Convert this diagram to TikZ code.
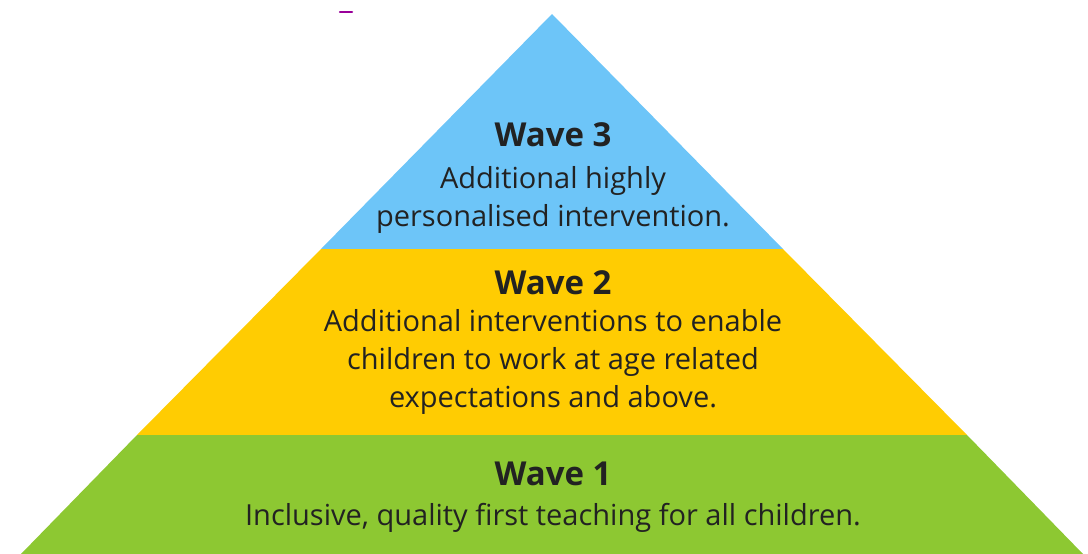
\documentclass[tikz,border=0pt]{standalone}
\usepackage{fontspec}
\setmainfont{Open Sans}
\usetikzlibrary{positioning}

\definecolor{waveblue}{HTML}{6DC5F8}
\definecolor{waveyellow}{HTML}{FFCC02}
\definecolor{wavegreen}{HTML}{8DC832}
\definecolor{wavetext}{HTML}{222222}

\tikzset{
  wavetitle/.style={text=wavetext, inner sep=0pt, anchor=base,
    font=\fontsize{33}{33}\selectfont\bfseries},
  wavebody/.style={text=wavetext, inner sep=0pt, align=center,
    font=\fontsize{29}{38}\selectfont},
}

\begin{document}
\begin{tikzpicture}[x=1pt,y=-1pt]

	\useasboundingbox (0,0) rectangle (1088,554);

	% bands of the pyramid
	\fill[waveblue] (552,14) -- (783,249) -- (321,249) -- cycle;
	\fill[waveyellow] (321,249) -- (783,249) -- (967,435) -- (137,435) -- cycle;
	\fill[wavegreen] (137,435) -- (967,435) -- (1083,554) -- (21,554) -- cycle;

	% small mark at the top
	\draw[violet!80!magenta, line width=2.5pt, line cap=round] (340,12) -- (352,12);

	% texts
	\node[wavetitle] (w3) at (553,146) {Wave 3};
	\node[wavebody, below=20pt of w3] (w3text) {Additional highly\\personalised intervention.};

	\node[wavetitle] (w2) at (553,294) {Wave 2};
	\node[wavebody, below=15pt of w2] (w2text) {Additional interventions to enable\\children to work at age related\\expectations and above.};

	\node[wavetitle] (w1) at (553,485) {Wave 1};
	\node[wavebody, below=18pt of w1] (w1text) {Inclusive, quality first teaching for all children.};

\end{tikzpicture}
\end{document}
